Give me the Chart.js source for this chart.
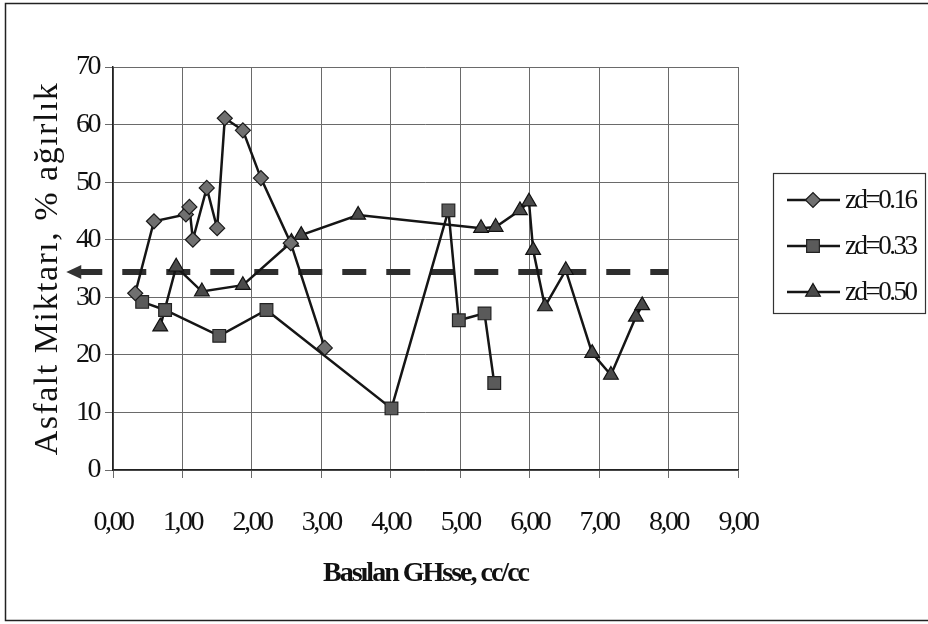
<!DOCTYPE html>
<html>
<head>
<meta charset="utf-8">
<script src="https://cdn.jsdelivr.net/npm/chart.js@4.4.1/dist/chart.umd.min.js"></script>
<style>
  html, body { margin: 0; padding: 0; background: #fff; }
  #wrap { width: 928px; height: 624px; position: relative; }
</style>
</head>
<body>
<div id="wrap"><canvas id="c" width="928" height="624"></canvas></div>
<script>
// Basılan GHsse (x) vs. asfalt miktarı (y), three zd series
const xTickValues = [0, 1, 2, 3, 4, 5, 6, 7, 8, 9];
const yTickValues = [0, 10, 20, 30, 40, 50, 60, 70];

const seriesNames = ['zd=0.16', 'zd=0.33', 'zd=0.50'];

const x016 = [0.32, 0.59, 1.05, 1.10, 1.15, 1.35, 1.50, 1.61, 1.87, 2.13, 2.56, 3.05];
const y016 = [30.7, 43.2, 44.4, 45.7, 40.0, 49.0, 42.0, 61.1, 59.0, 50.7, 39.4, 21.2];

const x033 = [0.42, 0.75, 1.53, 2.21, 4.01, 4.83, 4.98, 5.35, 5.49];
const y033 = [29.2, 27.8, 23.3, 27.8, 10.7, 45.1, 26.0, 27.2, 15.1];

const x050 = [0.68, 0.91, 1.28, 1.87, 2.57, 2.71, 3.53, 5.30, 5.51, 5.86, 5.99, 6.05, 6.22, 6.52, 6.90, 7.17, 7.53, 7.62];
const y050 = [24.9, 35.3, 31.0, 32.1, 39.6, 40.8, 44.3, 42.0, 42.2, 45.1, 46.6, 38.2, 28.4, 34.7, 20.3, 16.5, 26.6, 28.6];

// dashed reference level with an arrow at its left end
const refLevel = 34.4;
const refStartX = -0.5;
const refEndX = 8.0;

const pts = (xs, ys) => xs.map((x, i) => ({ x: x, y: ys[i] }));

const SERIF = "'Liberation Serif', 'Times New Roman', serif";

const markerStyles = [
  { pointStyle: 'rectRot', radius: 7.5, fill: '#707070', stroke: '#1a1a1a' },
  { pointStyle: 'rect', radius: 9, fill: '#5a5a5a', stroke: '#222' },
  { pointStyle: 'triangle', radius: 8.5, fill: '#4a4a4a', stroke: '#111' }
];

function seriesDataset(label, data, m) {
  return {
    label: label,
    data: data,
    showLine: true,
    borderColor: '#151515',
    borderWidth: 2.5,
    pointStyle: m.pointStyle,
    pointRadius: m.radius,
    pointBackgroundColor: m.fill,
    pointBorderColor: m.stroke,
    pointBorderWidth: 1.2,
    tension: 0,
    clip: false
  };
}

// outer frame of the figure; narrow glyph spacing for tick text
const framePlugin = {
  id: 'frame',
  beforeDraw(chart) {
    const ctx = chart.ctx;
    ctx.save();
    ctx.fillStyle = '#fff';
    ctx.fillRect(0, 0, chart.width, chart.height);
    ctx.strokeStyle = '#222';
    ctx.lineWidth = 1.5;
    ctx.beginPath();
    ctx.moveTo(940, 3.5);
    ctx.lineTo(5.5, 3.5);
    ctx.lineTo(5.5, 620.5);
    ctx.lineTo(940, 620.5);
    ctx.stroke();
    ctx.restore();
    ctx.letterSpacing = '-2.5px';
  }
};

// per-axis spacing for the axis titles
const titleSpacingPlugin = {
  id: 'titleSpacing',
  afterUpdate(chart) {
    const spacing = { x: '-2px', y: '1.5px' };
    Object.keys(spacing).forEach(id => {
      const scale = chart.scales[id];
      if (!scale || scale._spacingWrapped) return;
      const orig = scale.drawTitle;
      scale.drawTitle = function () {
        const c = this.ctx;
        const prev = c.letterSpacing;
        c.letterSpacing = spacing[id];
        orig.apply(this, arguments);
        c.letterSpacing = prev;
      };
      scale._spacingWrapped = true;
    });
  }
};

// arrowhead on the left end of the dashed level line
const arrowPlugin = {
  id: 'arrowHead',
  afterDatasetsDraw(chart) {
    const meta = chart.getDatasetMeta(3);
    const p = meta.data[0];
    if (!p) return;
    const ctx = chart.ctx;
    ctx.save();
    ctx.fillStyle = '#333';
    ctx.beginPath();
    ctx.moveTo(p.x - 12, p.y);
    ctx.lineTo(p.x + 3, p.y - 7);
    ctx.lineTo(p.x + 3, p.y + 7);
    ctx.closePath();
    ctx.fill();
    ctx.restore();
  }
};

// boxed legend with line + marker samples
const legendPlugin = {
  id: 'boxLegend',
  afterDraw(chart) {
    const ctx = chart.ctx;
    const box = { x: 773.5, y: 173.5, w: 152, h: 140 };
    ctx.save();
    ctx.strokeStyle = '#333';
    ctx.lineWidth = 1.2;
    ctx.strokeRect(box.x, box.y, box.w, box.h);
    const rows = [200, 246, 292];
    seriesNames.forEach((name, i) => {
      const y = rows[i];
      const m = markerStyles[i];
      ctx.strokeStyle = '#151515';
      ctx.lineWidth = 2.5;
      ctx.beginPath();
      ctx.moveTo(787, y);
      ctx.lineTo(840, y);
      ctx.stroke();
      ctx.fillStyle = m.fill;
      ctx.strokeStyle = m.stroke;
      ctx.lineWidth = 1.2;
      Chart.helpers.drawPoint(ctx, { pointStyle: m.pointStyle, radius: m.radius, borderWidth: 1.2 }, 813, y);
      ctx.fillStyle = '#111';
      ctx.font = '27px ' + SERIF;
      ctx.letterSpacing = '-2.5px';
      ctx.textBaseline = 'middle';
      ctx.textAlign = 'left';
      ctx.fillText(name, 845, y + 1);
    });
    ctx.restore();
  }
};

const ctx = document.getElementById('c').getContext('2d');
new Chart(ctx, {
  type: 'line',
  data: {
    datasets: [
      seriesDataset(seriesNames[0], pts(x016, y016), markerStyles[0]),
      seriesDataset(seriesNames[1], pts(x033, y033), markerStyles[1]),
      seriesDataset(seriesNames[2], pts(x050, y050), markerStyles[2]),
      {
        label: 'level',
        data: [{ x: refStartX, y: refLevel }, { x: refEndX, y: refLevel }],
        borderColor: '#2e2e2e',
        borderWidth: 6,
        borderDash: [24, 20],
        borderCapStyle: 'butt',
        pointRadius: 0,
        clip: false
      }
    ]
  },
  options: {
    responsive: false,
    animation: false,
    devicePixelRatio: 1,
    layout: { padding: { left: 0, right: 190, top: 67, bottom: 0 } },
    plugins: {
      legend: { display: false },
      tooltip: { enabled: false }
    },
    scales: {
      x: {
        type: 'linear',
        min: xTickValues[0],
        max: xTickValues[xTickValues.length - 1],
        afterBuildTicks: s => { s.ticks = xTickValues.map(v => ({ value: v })); },
        afterFit: s => { s.height = 154; },
        ticks: {
          callback: v => v.toFixed(2).replace('.', ','),
          font: { family: SERIF, size: 28 },
          color: '#111',
          padding: 28,
          maxRotation: 0
        },
        grid: { color: '#6a6a6a', lineWidth: 1, tickLength: 8 },
        border: { color: '#222', width: 1.5 },
        title: {
          display: true,
          text: 'Basılan GHsse, cc/cc',
          font: { family: SERIF, size: 28, weight: 'bold' },
          color: '#111',
          padding: { top: 0, bottom: 33 }
        }
      },
      y: {
        type: 'linear',
        min: yTickValues[0],
        max: yTickValues[yTickValues.length - 1],
        afterBuildTicks: s => { s.ticks = yTickValues.map(v => ({ value: v })); },
        afterFit: s => { s.width = 113; },
        ticks: {
          font: { family: SERIF, size: 28 },
          color: '#111',
          padding: 6
        },
        grid: { color: '#6a6a6a', lineWidth: 1, tickLength: 8 },
        border: { color: '#222', width: 1.5 },
        title: {
          display: true,
          text: 'Asfalt Miktarı, % ağırlık',
          font: { family: SERIF, size: 34 },
          color: '#111',
          padding: { top: 28, bottom: 0 }
        }
      }
    }
  },
  plugins: [framePlugin, titleSpacingPlugin, arrowPlugin, legendPlugin]
});
</script>
</body>
</html>
